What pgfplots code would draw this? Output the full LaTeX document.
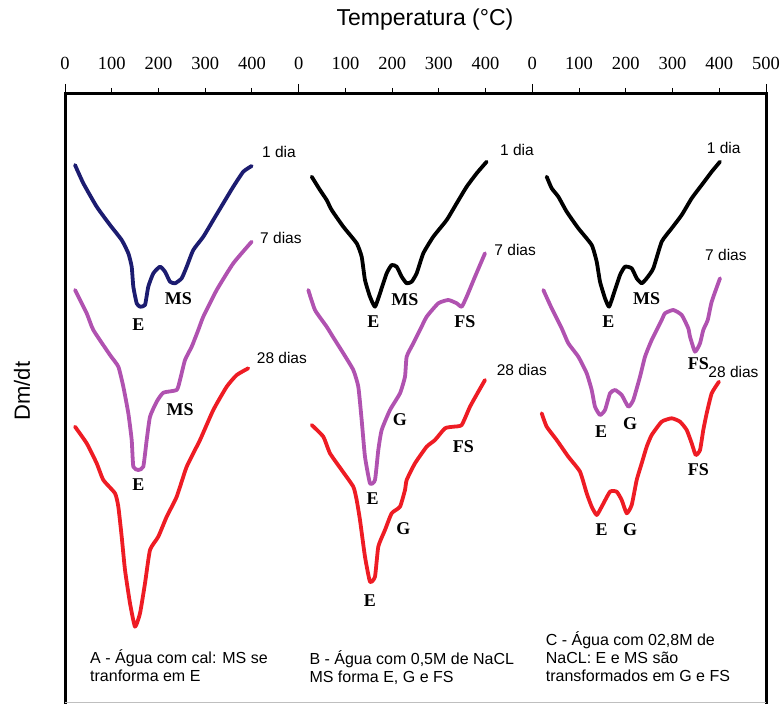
\documentclass[border=0pt]{standalone}
\usepackage{pgfplots}
\pgfplotsset{compat=1.18}
\usepackage{fontspec}
\setmainfont{Liberation Sans}
\newfontfamily\serif{Liberation Serif}

\definecolor{navy}{RGB}{28,28,112}
\definecolor{lilac}{RGB}{176,82,176}
\definecolor{dtgred}{RGB}{238,28,36}

% tick labels in a text serif face
\newcommand\tk[1]{\mbox{\serif\fontsize{18.5}{18.5}\selectfont #1}}

\begin{document}
\begin{tikzpicture}[
    pk/.style={font=\serif\bfseries\fontsize{18}{18}\selectfont, inner sep=0pt},
    age/.style={font=\fontsize{15.5}{15.5}\selectfont, anchor=west, inner sep=0pt},
    note/.style={font=\fontsize{16}{16}\selectfont, anchor=base west, inner sep=0pt}]
\useasboundingbox (0,0) rectangle (781pt,704pt);
\begin{axis}[
    at={(65pt,2pt)}, anchor=south west,
    scale only axis, width=701pt, height=608pt,
    xmin=0, xmax=1500, ymin=2, ymax=610,
    axis x line*=top, axis y line*=box,
    axis line style={-, line width=3pt, line cap=rect},
    tick align=outside,
    xtick={0,100,...,1500},
    xticklabels={\tk{0},\tk{100},\tk{200},\tk{300},\tk{400},
                 \tk{0},\tk{100},\tk{200},\tk{300},\tk{400},
                 \tk{0},\tk{100},\tk{200},\tk{300},\tk{400},\tk{500}},
    major tick length=6pt,
    x tick style={line width=1pt, black},
    extra x ticks={0,500,1000,1500},
    extra x tick labels={},
    extra x tick style={major tick length=10pt},
    xticklabel style={yshift=15pt},
    ytick=\empty,
    clip=false,
    every axis plot/.append style={line width=3.8pt, line join=round, line cap=round, smooth, tension=0.3},
]
% ---------------- A: water with lime ----------------
\addplot[navy] coordinates {
(21.4,539) (39.2,520.7) (67.8,497.3) (96.3,479) (121.3,464) (135.5,450.7)
(142.7,437.3) (146.2,417.3) (153.4,400.7) (160.5,397.3) (171.2,399) (178.2,417.3)
(189,430.7) (203.3,437.3) (214,432.3) (224.7,422.3) (235.4,420.7) (249.7,425.7)
(260.4,437.3) (274.5,454) (296,467.3) (317.3,484) (338.7,500.7) (360.1,517.3)
(381.5,532.3) (399.5,538)};
\addplot[lilac] coordinates {
(21.4,414) (46.4,390.7) (60.6,374) (96.3,349) (114.1,337.3) (124.8,317.3)
(135.5,290.7) (142.7,264) (146.2,237.3) (156.8,234) (167.5,237.3) (174.8,264)
(181.9,287.3) (196.2,302.3) (210.3,311.3) (239,314) (246.1,324) (256.8,344)
(271.1,357.3) (285.2,374) (295.9,387.3) (324.6,414) (360.1,440.7) (399.5,462.3)};
\addplot[dtgred] coordinates {
(21.4,277.3) (46.4,260.7) (67.8,240.7) (82,224) (107,210.7) (114.1,197.3)
(121.3,167.3) (128.4,134) (139.1,100.7) (149.8,77.3) (160.5,90.7) (171.2,120.7)
(181.9,154) (199.6,167.3) (217.6,187.3) (239,207.3) (260.4,237.3) (288.9,264)
(317.3,294) (346,317.3) (367.4,329) (392.2,335.7)};

% ---------------- B: water with 0.5 M NaCl ----------------
\begin{scope}[/pgfplots/x filter/.expression={x+500}]
\addplot[black] coordinates {
(27.9,527.3) (45.6,514) (59.9,504) (70.6,494) (95.5,477.3) (124.1,460.7)
(134.8,447.3) (141.9,424) (152.6,407.3) (163.3,397.3) (174,410.7) (188.3,430.7)
(199,439) (209.7,437.3) (220.4,427.3) (231.1,420.7) (241.8,422.3) (252.5,430.7)
(266.7,450.7) (288.1,467.3) (316.7,484) (338.1,500.7) (359.5,517.3) (380.9,530.7)
(402.3,542.3)};
\addplot[lilac] coordinates {
(20.6,414) (34.9,394) (59.9,377.3) (73.5,367) (95.5,350.7) (116.9,334)
(127.6,317.3) (134.8,284) (141.9,247.3) (152.6,220.7) (163.3,224) (170.4,254)
(177.6,274) (195.4,294) (216.8,310.7) (227.5,327.3) (231.1,347.3) (245.3,360.7)
(259.6,374) (273.9,387.3) (298.8,400.7) (320.2,404) (338.1,400.7) (348.8,397.3)
(359.5,407.3) (377.3,427.3) (398.7,450.7)};
\addplot[dtgred] coordinates {
(27.9,279) (52.7,267.3) (67,250.7) (92,234) (116.9,217.3) (124.1,204)
(131.2,184) (141.9,147.3) (152.6,122.3) (163.3,127.3) (170.4,157.3) (184.7,174)
(199,190.7) (216.8,197.3) (227.5,214) (231.1,224) (248.9,240.7) (273.9,257.3)
(291.7,264) (313.1,275.7) (330.9,277.3) (348.8,279) (366.6,297.3) (384.4,312.3)
(398.7,324)};
\end{scope}

% ---------------- C: water with 2.8 M NaCl ----------------
\begin{scope}[/pgfplots/x filter/.expression={x+1000}]
\addplot[black] coordinates {
(30.7,527.3) (41.4,515.7) (55.6,507.3) (73.5,492.3) (98.4,475.7) (127,459)
(137.7,442.3) (144.8,422.3) (155.5,405.7) (164.1,397.3) (173.3,409) (187.6,429)
(198.3,437.3) (212.6,435.7) (223.3,425.7) (234,420.7) (244.7,425.7) (258.9,435.7)
(276.8,462.3) (298.2,475.7) (319.6,489) (341,505.7) (362.4,519) (383.8,532.3)
(401.6,542.3)};
\addplot[lilac] coordinates {
(23.5,414) (41.4,395.7) (62.8,375.7) (77,360.7) (98.4,347.3) (116.3,330.7)
(127,314) (134.1,297.3) (144.8,289) (155.5,294) (166.2,310.7) (176.9,314)
(191.2,309) (205.4,297.3) (216,304) (230.4,327.3) (241.1,347.3) (255.4,364)
(276.8,384) (283.9,390.7) (301.6,394) (319.6,389) (333.7,375.7) (337.4,367.3)
(348.1,352.3) (358.8,360.7) (365.8,374) (375.3,384) (383.8,402.3) (401.6,425.7)};
\addplot[dtgred] coordinates {
(20,290.7) (30.7,277.3) (52.1,264) (77,247.3) (102,232.3) (116.3,210.7)
(127,197.3) (137.7,189) (148.4,197.3) (166.2,212.3) (180.5,212.3) (191.2,204)
(201.9,190.7) (212.6,199) (223.3,224) (234,240.7) (244.7,257.3) (255.4,269)
(276.8,282.3) (298.2,285.7) (316,282.3) (330.3,274) (341,260.7) (349.6,249)
(358.8,254) (365.8,274) (373.1,290.7) (383.8,310.7) (399.4,322.3)};
\end{scope}

% light bottom edge of the frame
\draw[black!25, line width=1pt] (rel axis cs:0,0) -- (rel axis cs:1,0);

% ages of the samples
\node[age] at (axis cs:421.5,552) {1 dia};
\node[age] at (axis cs:417.3,466) {7 dias};
\node[age] at (axis cs:410.2,346) {28 dias};
\node[age] at (axis cs:930.8,554) {1 dia};
\node[age] at (axis cs:918.6,454) {7 dias};
\node[age] at (axis cs:923.6,334) {28 dias};
\node[age] at (axis cs:1373,555.7) {1 dia};
\node[age] at (axis cs:1369.5,449) {7 dias};
\node[age] at (axis cs:1376.5,332.3) {28 dias};

% peak identification
\node[pk] at (axis cs:156.8,379) {E};
\node[pk] at (axis cs:242.4,405.7) {MS};
\node[pk] at (axis cs:246.1,294) {MS};
\node[pk] at (axis cs:156.8,219) {E};

\node[pk] at (axis cs:659.7,382.3) {E};
\node[pk] at (axis cs:727.5,404) {MS};
\node[pk] at (axis cs:855.9,382.3) {FS};
\node[pk] at (axis cs:716.8,284) {G};
\node[pk] at (axis cs:658.4,205.7) {E};
\node[pk] at (axis cs:723.9,175.7) {G};
\node[pk] at (axis cs:852.3,257.3) {FS};
\node[pk] at (axis cs:652.6,103) {E};

\node[pk] at (axis cs:1162.6,382.3) {E};
\node[pk] at (axis cs:1244.7,405.7) {MS};
\node[pk] at (axis cs:1147,272.3) {E};
\node[pk] at (axis cs:1209,280.7) {G};
\node[pk] at (axis cs:1355.2,340.7) {FS};
\node[pk] at (axis cs:1148.4,174) {E};
\node[pk] at (axis cs:1209,174) {G};
\node[pk] at (axis cs:1355.2,234) {FS};

% descriptions of the three series
\node[note] at (axis cs:53.5,41) {A - Água com cal: MS se};
\node[note] at (axis cs:53.5,23) {tranforma em E};
\node[note] at (axis cs:522.8,40) {B - Água com 0,5M de NaCL};
\node[note] at (axis cs:522.8,22) {MS forma E, G e FS};
\node[note] at (axis cs:1028.6,59) {C - Água com 02,8M de};
\node[note] at (axis cs:1028.6,41) {NaCL: E e MS são};
\node[note] at (axis cs:1028.6,23) {transformados em G e FS};
\end{axis}
\node[font=\fontsize{23}{23}\selectfont] at (425pt,684pt) {Temperatura (°C)};
\node[font=\fontsize{22}{22}\selectfont, rotate=90] at (22pt,313pt) {Dm/dt};
\end{tikzpicture}
\end{document}
